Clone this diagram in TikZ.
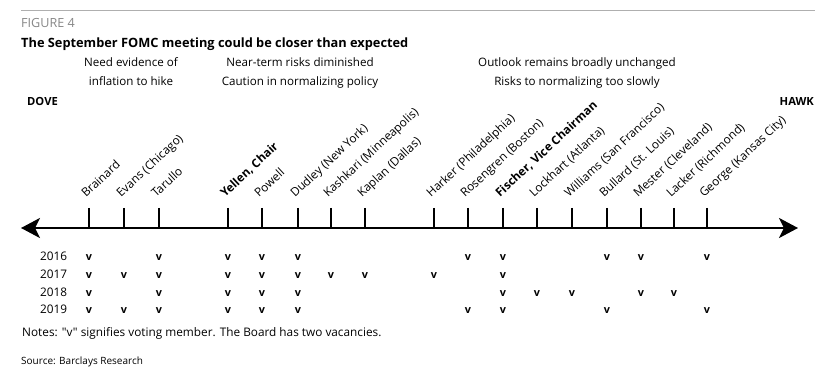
\documentclass[tikz,border=0pt]{standalone}
\usepackage{fontspec}
\setmainfont{Open Sans}
\usetikzlibrary{arrows.meta}

\definecolor{rulegray}{RGB}{175,175,175}
\definecolor{figgray}{RGB}{135,135,135}

\begin{document}
\begin{tikzpicture}[x=1pt, y=-1pt, draw=black,
  txt/.style={inner sep=0pt, font=\fontsize{11.6}{19}\selectfont},
  member/.style={rotate=43, anchor=base west, inner sep=0pt, font=\fontsize{11.8}{12}\selectfont},
  vote/.style={inner sep=0pt, anchor=base, font=\bfseries\fontsize{10.8}{12}\selectfont},
  year/.style={inner sep=0pt, anchor=base west, font=\fontsize{11.8}{12}\selectfont},
  tickmark/.style={line width=2.6pt}]

\useasboundingbox (0,0) rectangle (838,374);

% header
\coordinate (ruleL) at (21,10);
\coordinate (ruleR) at (815,10);
\draw [rulegray, line width=0.8pt] (ruleL) -- (ruleR);
\node[txt, anchor=base west, text=figgray, font=\fontsize{12.6}{12}\selectfont] (fig) at (21,28) {FIGURE 4};
\node[txt, anchor=base west, font=\bfseries\fontsize{12.8}{14}\selectfont] (title) at (21,48) {The September FOMC meeting could be closer than expected};

\node[txt, align=center, anchor=north] (grpA) at (131,57) {Need evidence of\\inflation to hike};
\node[txt, align=center, anchor=north] (grpB) at (300,57) {Near-term risks diminished\\Caution in normalizing policy};
\node[txt, align=center, anchor=north] (grpC) at (577,57) {Outlook remains broadly unchanged\\Risks to normalizing too slowly};

\node[txt, anchor=base west, font=\bfseries\fontsize{11.2}{12}\selectfont] (dove) at (27,106) {DOVE};
\node[txt, anchor=base east, font=\bfseries\fontsize{11.2}{12}\selectfont] (hawk) at (814,106) {HAWK};

% axis
\coordinate (axisL) at (21,228);
\coordinate (axisR) at (798,228);
\draw [line width=2.8pt, {Stealth[length=19pt,width=20pt,inset=5pt]}-{Stealth[length=19pt,width=20pt,inset=5pt]}] (axisL) -- (axisR);

% tick tops
\coordinate (brainard) at (89,208);
\coordinate (evans) at (124,208);
\coordinate (tarullo) at (159,208);
\coordinate (yellen) at (228,208);
\coordinate (powell) at (262,208);
\coordinate (dudley) at (298,208);
\coordinate (kashkari) at (331,208);
\coordinate (kaplan) at (365,208);
\coordinate (harker) at (434,208);
\coordinate (rosengren) at (468,208);
\coordinate (fischer) at (503,208);
\coordinate (lockhart) at (537,208);
\coordinate (williams) at (572,208);
\coordinate (bullard) at (607,208);
\coordinate (mester) at (641,208);
\coordinate (lacker) at (674,208);
\coordinate (george) at (707,208);

\foreach \m in {brainard,evans,tarullo,yellen,powell,dudley,kashkari,kaplan,harker,rosengren,fischer,lockhart,williams,bullard,mester,lacker,george}
  \draw [tickmark] (\m) -- (\m |- axisL);

% member names
\node[member] (brainard-lbl) at ([shift={(-3,-10)}]brainard) {Brainard};
\node[member] (evans-lbl) at ([shift={(-3,-10)}]evans) {Evans (Chicago)};
\node[member] (tarullo-lbl) at ([shift={(-3,-10)}]tarullo) {Tarullo};
\node[member, font=\bfseries\fontsize{11.8}{12}\selectfont] (yellen-lbl) at ([shift={(-3,-10)}]yellen) {Yellen, Chair};
\node[member] (powell-lbl) at ([shift={(-3,-10)}]powell) {Powell};
\node[member] (dudley-lbl) at ([shift={(-3,-10)}]dudley) {Dudley (New York)};
\node[member] (kashkari-lbl) at ([shift={(-3,-10)}]kashkari) {Kashkari (Minneapolis)};
\node[member] (kaplan-lbl) at ([shift={(-3,-10)}]kaplan) {Kaplan (Dallas)};
\node[member] (harker-lbl) at ([shift={(-3,-10)}]harker) {Harker (Philadelphia)};
\node[member] (rosengren-lbl) at ([shift={(-3,-10)}]rosengren) {Rosengren (Boston)};
\node[member, font=\bfseries\fontsize{11.8}{12}\selectfont] (fischer-lbl) at ([shift={(-3,-10)}]fischer) {Fischer, Vice Chairman};
\node[member] (lockhart-lbl) at ([shift={(-3,-10)}]lockhart) {Lockhart (Atlanta)};
\node[member] (williams-lbl) at ([shift={(-3,-10)}]williams) {Williams (San Francisco)};
\node[member] (bullard-lbl) at ([shift={(-3,-10)}]bullard) {Bullard (St. Louis)};
\node[member] (mester-lbl) at ([shift={(-3,-10)}]mester) {Mester (Cleveland)};
\node[member] (lacker-lbl) at ([shift={(-3,-10)}]lacker) {Lacker (Richmond)};
\node[member] (george-lbl) at ([shift={(-3,-10)}]george) {George (Kansas City)};

% voting rows
\node[year] (y2016) at (40,260) {2016};
\node[year] (y2017) at (40,278) {2017};
\node[year] (y2018) at (40,296) {2018};
\node[year] (y2019) at (40,313) {2019};

\foreach \m in {brainard,tarullo,yellen,powell,dudley,rosengren,fischer,bullard,mester,george}
  \node[vote] (v16-\m) at (\m |- y2016.base) {v};
\foreach \m in {brainard,evans,tarullo,yellen,powell,dudley,kashkari,kaplan,harker,fischer}
  \node[vote] (v17-\m) at (\m |- y2017.base) {v};
\foreach \m in {brainard,tarullo,yellen,powell,dudley,fischer,lockhart,williams,mester,lacker}
  \node[vote] (v18-\m) at (\m |- y2018.base) {v};
\foreach \m in {brainard,evans,tarullo,yellen,powell,dudley,rosengren,fischer,bullard,george}
  \node[vote] (v19-\m) at (\m |- y2019.base) {v};

% footer
\node[txt, anchor=base west, font=\fontsize{11.8}{12}\selectfont\addfontfeatures{Ligatures=TeXOff}] (notes) at (22,336) {Notes: "v" signifies voting member. The Board has two vacancies.};
\node[txt, anchor=base west, font=\fontsize{10}{10}\selectfont] (source) at (21,364) {Source: Barclays Research};
\end{tikzpicture}
\end{document}
